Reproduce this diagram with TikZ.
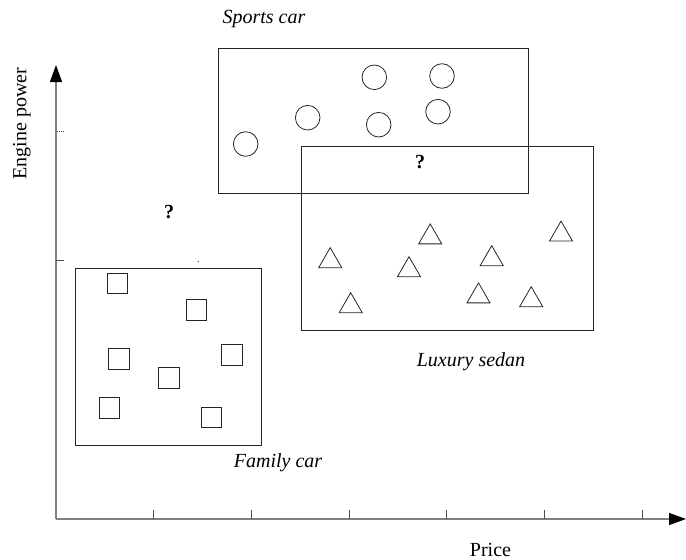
\documentclass[tikz,border=0pt]{standalone}
\usepackage{fontspec}
\setmainfont{Liberation Serif}
\usetikzlibrary{shapes.geometric,arrows.meta}
\begin{document}
\begin{tikzpicture}[x=1pt,y=-1pt,
  every node/.style={inner sep=0pt,outer sep=0pt},
  groupbox/.style={draw=black!85,line width=0.9pt,rectangle},
  circ/.style={draw=black!85,line width=0.8pt,circle,minimum size=24.6pt},
  sq/.style={draw=black!85,line width=0.8pt,rectangle,minimum size=20.7pt},
  tri/.style={draw=black!85,line width=0.8pt,regular polygon,regular polygon sides=3,minimum size=26.6pt},
  lbl/.style={font=\fontsize{20}{24}\selectfont\itshape,anchor=base},
  axlbl/.style={font=\fontsize{20}{24}\selectfont,anchor=base},
  qmark/.style={font=\fontsize{20}{24}\selectfont\bfseries},
  axis/.style={draw=black!50,line width=1.3pt},
  tick/.style={draw=black!70,line width=0.9pt},
  axtip/.style={-{Triangle[width=12pt,length=17pt,color=black,fill=black]}}
]
\useasboundingbox (0,0) rectangle (686,560);

% axes
\coordinate (O) at (56,519);
\coordinate (Ytop) at (56,65);
\coordinate (Xend) at (686,519);
\draw[axis,axtip] (O) -- (Ytop);
\draw[axis,axtip] (O) -- (Xend);
\foreach \x [count=\i] in {153,251,349,446.5,544,642}{
  \coordinate (tb\i) at (\x,519);
  \coordinate (tt\i) at (\x,510);
  \draw[tick] (tb\i) -- (tt\i);
}
\coordinate (yt1a) at (56,260);
\coordinate (yt1b) at (64,260);
\draw[tick] (yt1a) -- (yt1b);
\coordinate (yt2a) at (57,131);
\coordinate (yt2b) at (63.5,131);
\draw[tick,line width=0.7pt,dash pattern=on 0.7pt off 1.2pt] (yt2a) -- (yt2b);

% group boxes
\node[groupbox,minimum width=310pt,minimum height=145pt] (sports) at (373,120.5) {};
\node[groupbox,minimum width=292pt,minimum height=184pt] (luxury) at (447,238) {};
\node[groupbox,minimum width=186pt,minimum height=177pt] (family) at (168,356.5) {};

% circles
\node[circ] (c1) at (245.7,144) {};
\node[circ] (c2) at (307.7,117.7) {};
\node[circ] (c3) at (374.3,77.3) {};
\node[circ] (c4) at (378.7,124.7) {};
\node[circ] (c5) at (442,76) {};
\node[circ] (c6) at (438,111.7) {};

% triangles (centre = base - 6.65)
\node[tri] (t1) at (330.2,261) {};
\node[tri] (t2) at (430.2,237.2) {};
\node[tri] (t3) at (561,234.4) {};
\node[tri] (t4) at (491.7,259) {};
\node[tri] (t5) at (409,270) {};
\node[tri] (t6) at (350.7,306) {};
\node[tri] (t7) at (478.5,296.2) {};
\node[tri] (t8) at (531.2,300) {};

% squares
\node[sq] (s1) at (117.5,283.3) {};
\node[sq] (s2) at (196.5,309.7) {};
\node[sq] (s3) at (118.7,358.7) {};
\node[sq] (s4) at (231.7,354.7) {};
\node[sq] (s5) at (169,377.8) {};
\node[sq] (s6) at (109.3,407.7) {};
\node[sq] (s7) at (211.5,417.5) {};

% labels
\node[lbl] (lsports) at (264,23) {Sports car};
\node[lbl] (lluxury) at (471,366.5) {Luxury sedan};
\node[lbl] (lfamily) at (278,467) {Family car};
\node[axlbl] (lprice) at (490.5,556.5) {Price};
\node[axlbl,rotate=90] (lengine) at (26.5,123.5) {Engine power};
\node[qmark] (q1) at (169,212) {?};
\node[qmark] (q2) at (420,162.5) {?};
\fill[black!80] (198.3,261.7) circle (0.7pt);
\end{tikzpicture}
\end{document}
